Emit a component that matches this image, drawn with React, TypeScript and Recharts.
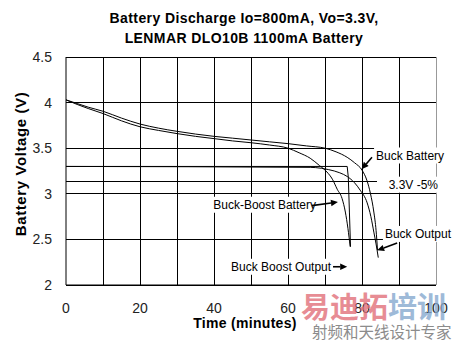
import {
  LineChart,
  Line,
  XAxis,
  YAxis,
  CartesianGrid,
  ReferenceLine,
  ReferenceDot,
} from "recharts";

type Pt = { t: number; v: number };

const xTicks = [0, 20, 40, 60, 80, 100];
const yTicks = [2, 2.5, 3, 3.5, 4, 4.5];
const gridMinutes = [10, 20, 30, 40, 50, 60, 70, 80, 90];

// battery voltage, buck converter
const buckBattery: Pt[] = [
  { t: 0, v: 4.03 }, { t: 3, v: 3.99 }, { t: 6, v: 3.95 }, { t: 10, v: 3.905 },
  { t: 15, v: 3.83 }, { t: 20, v: 3.765 }, { t: 25, v: 3.72 }, { t: 30, v: 3.685 },
  { t: 35, v: 3.655 }, { t: 40, v: 3.63 }, { t: 45, v: 3.61 }, { t: 50, v: 3.59 },
  { t: 55, v: 3.57 }, { t: 60, v: 3.55 }, { t: 65, v: 3.525 }, { t: 70, v: 3.5 },
  { t: 73, v: 3.46 }, { t: 76, v: 3.4 }, { t: 78, v: 3.34 }, { t: 80, v: 3.26 },
  { t: 81.3, v: 3.15 }, { t: 82.3, v: 3.0 }, { t: 83.2, v: 2.8 }, { t: 83.8, v: 2.6 },
  { t: 84.2, v: 2.38 },
];

// battery voltage, buck-boost converter
const buckBoostBattery: Pt[] = [
  { t: 0, v: 4.03 }, { t: 3, v: 3.98 }, { t: 6, v: 3.935 }, { t: 10, v: 3.88 },
  { t: 15, v: 3.8 }, { t: 20, v: 3.735 }, { t: 25, v: 3.695 }, { t: 30, v: 3.66 },
  { t: 35, v: 3.63 }, { t: 40, v: 3.605 }, { t: 45, v: 3.58 }, { t: 50, v: 3.56 },
  { t: 55, v: 3.535 }, { t: 60, v: 3.5 }, { t: 63, v: 3.45 }, { t: 66, v: 3.39 },
  { t: 68.5, v: 3.31 }, { t: 70.5, v: 3.24 }, { t: 72, v: 3.16 }, { t: 73.3, v: 3.05 },
  { t: 74.6, v: 2.95 }, { t: 75.5, v: 2.8 }, { t: 76.2, v: 2.62 }, { t: 76.8, v: 2.42 },
];

const buckBoostOutput: Pt[] = [
  { t: 0, v: 3.3 }, { t: 76, v: 3.3 }, { t: 76.3, v: 3.18 }, { t: 76.6, v: 2.8 },
  { t: 76.9, v: 2.42 },
];

const buckOutput: Pt[] = [
  { t: 0, v: 3.3 }, { t: 66, v: 3.29 }, { t: 69, v: 3.28 }, { t: 71, v: 3.265 },
  { t: 74, v: 3.23 }, { t: 76, v: 3.19 }, { t: 78, v: 3.12 }, { t: 79.5, v: 3.04 },
  { t: 81.4, v: 2.9 }, { t: 82.4, v: 2.75 }, { t: 83.2, v: 2.58 }, { t: 83.8, v: 2.45 },
  { t: 84.4, v: 2.3 },
];

// 3.3V -5% limit
const limitLine: Pt[] = [{ t: 0, v: 3.135 }, { t: 84, v: 3.135 }];

const notes = [
  { text: "Buck Battery", t: 83.8, v: 3.42, w: 66, from: [82.7, 3.4], to: [79.9, 3.27] },
  { text: "3.3V -5%", t: 87.2, v: 3.1, w: 54, from: null, to: null },
  { text: "Buck-Boost Battery", t: 39.8, v: 2.88, w: 100, from: [66.4, 2.87], to: [73.5, 2.91] },
  { text: "Buck Output", t: 86.2, v: 2.56, w: 66, from: [89.5, 2.46], to: [84.1, 2.38] },
  { text: "Buck Boost Output", t: 44.6, v: 2.2, w: 104, from: [71.8, 2.2], to: [76, 2.2] },
];

const font = '"Liberation Sans", Arial, sans-serif';

const arrowShape = (p: any) => {
  const { x1, y1, x2, y2 } = p;
  const a = Math.atan2(y2 - y1, x2 - x1);
  const len = 7;
  const half = 3.2;
  const bx = x2 - len * Math.cos(a);
  const by = y2 - len * Math.sin(a);
  const pts = `${x2},${y2} ${bx - half * Math.sin(a)},${by + half * Math.cos(a)} ${bx + half * Math.sin(a)},${by - half * Math.cos(a)}`;
  return (
    <g>
      <line x1={x1} y1={y1} x2={bx} y2={by} stroke="#000" strokeWidth={1.6} />
      <polygon points={pts} fill="#000" />
    </g>
  );
};

const noteShape = (text: string, w: number) => (p: any) => (
  <g>
    <rect x={p.cx - 2} y={p.cy - 8} width={w} height={16} fill="#fff" />
    <text x={p.cx} y={p.cy} dy="0.36em" fontSize={12} fontFamily={font} fill="#000">
      {text}
    </text>
  </g>
);

export default function App() {
  return (
    <div
      style={{
        position: "absolute",
        left: 0,
        top: 0,
        width: 456,
        height: 343,
        background: "#fff",
        fontFamily: font,
      }}
    >
      <div
        style={{
          position: "absolute",
          left: 0,
          top: 8,
          width: 488,
          textAlign: "center",
          fontWeight: "bold",
          fontSize: 14,
          lineHeight: "20px",
          letterSpacing: 0.4,
          color: "#000",
        }}
      >
        <div>Battery Discharge Io=800mA, Vo=3.3V,</div>
        <div>LENMAR DLO10B 1100mA Battery</div>
      </div>

      <LineChart width={456} height={343} margin={{ top: 57, right: 20, bottom: 28, left: 0 }}>
        <CartesianGrid vertical={false} stroke="#000" strokeOpacity={1} shapeRendering="crispEdges" />
        {gridMinutes.map((m) => (
          <ReferenceLine key={m} x={m} stroke="#000" shapeRendering="crispEdges" />
        ))}
        <ReferenceLine x={100} stroke="#999" shapeRendering="crispEdges" />
        <XAxis
          dataKey="t"
          type="number"
          domain={[0, 100]}
          ticks={xTicks}
          height={30}
          tickLine={false}
          tickMargin={12}
          axisLine={{ stroke: "#000" }}
          tick={{ fill: "#222", fontSize: 14, fontFamily: font }}
        />
        <YAxis
          type="number"
          domain={[2, 4.5]}
          ticks={yTicks}
          width={66}
          tickLine={false}
          tickMargin={8}
          axisLine={{ stroke: "#000" }}
          tick={{ fill: "#222", fontSize: 14, fontFamily: font }}
        />
        <Line data={limitLine} dataKey="v" type="linear" stroke="#000" strokeWidth={1} dot={false} isAnimationActive={false} shapeRendering="crispEdges" />
        <Line data={buckBoostOutput} dataKey="v" type="linear" stroke="#000" strokeWidth={1} dot={false} isAnimationActive={false} />
        <Line data={buckOutput} dataKey="v" type="monotone" stroke="#000" strokeWidth={1} dot={false} isAnimationActive={false} />
        <Line data={buckBattery} dataKey="v" type="monotone" stroke="#000" strokeWidth={1} dot={false} isAnimationActive={false} />
        <Line data={buckBoostBattery} dataKey="v" type="monotone" stroke="#000" strokeWidth={1} dot={false} isAnimationActive={false} />
        {notes.map((n) => (
          <ReferenceDot key={n.text} x={n.t} y={n.v} r={0} shape={noteShape(n.text, n.w)} />
        ))}
        {notes
          .filter((n) => n.from && n.to)
          .map((n) => (
            <ReferenceLine
              key={"a" + n.text}
              segment={[
                { x: n.from![0], y: n.from![1] },
                { x: n.to![0], y: n.to![1] },
              ]}
              shape={arrowShape}
            />
          ))}
      </LineChart>

      <div
        style={{
          position: "absolute",
          left: 20,
          top: 164,
          transform: "translate(-50%, -50%) rotate(-90deg)",
          whiteSpace: "nowrap",
          fontWeight: "bold",
          fontSize: 15,
          letterSpacing: 0.6,
        }}
      >
        Battery Voltage (V)
      </div>
      <div
        style={{
          position: "absolute",
          left: 245,
          top: 323,
          transform: "translate(-50%, -50%)",
          whiteSpace: "nowrap",
          fontWeight: "bold",
          fontSize: 14,
          letterSpacing: 0.3,
        }}
      >
        Time (minutes)
      </div>

      <div
        style={{
          position: "absolute",
          left: 301,
          top: 288,
          whiteSpace: "nowrap",
          fontFamily: '"Noto Sans CJK SC", sans-serif',
          fontWeight: "bold",
          fontSize: 29,
          lineHeight: "34px",
          opacity: 0.8,
        }}
      >
        <span style={{ color: "#e2707a" }}>易迪拓</span>
        <span style={{ color: "#86a9cf" }}>培训</span>
      </div>
      <div
        style={{
          position: "absolute",
          left: 312,
          top: 322,
          whiteSpace: "nowrap",
          fontFamily: '"Noto Sans CJK SC", sans-serif',
          fontSize: 15.5,
          lineHeight: "18px",
          color: "#8c8c8c",
        }}
      >
        射频和天线设计专家
      </div>
    </div>
  );
}
